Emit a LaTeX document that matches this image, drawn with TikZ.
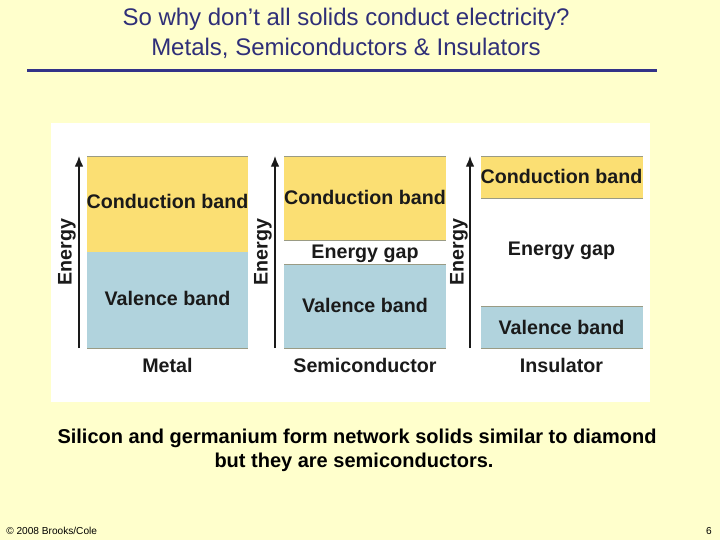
\documentclass[tikz,border=0pt]{standalone}
\usepackage{fontspec}
\setmainfont{Liberation Sans}
\definecolor{pagebg}{HTML}{FFFFCC}
\definecolor{rulecol}{HTML}{333388}
\definecolor{titlecol}{HTML}{2F2F78}
\definecolor{cond}{HTML}{FBDF73}
\definecolor{val}{HTML}{B1D3DD}
\definecolor{edgeband}{HTML}{9A9B84}
\definecolor{ink}{HTML}{1A1A1A}
\usetikzlibrary{arrows.meta}
\tikzset{
  x=0.75pt,y=-0.75pt,
  edgeline/.style={draw=edgeband,line width=0.7pt},
  bandtext/.style={font=\fontsize{14.75}{16}\selectfont\bfseries,text=ink,inner sep=0pt},
  energylabel/.style={font=\fontsize{14.75}{16}\selectfont\bfseries,text=ink,inner sep=0pt,rotate=90},
  axisarrow/.style={draw=ink,line width=1pt,-{Latex[length=8pt,width=6.5pt]}},
  title/.style={font=\fontsize{18}{21}\selectfont,text=titlecol,inner sep=0pt},
  caption/.style={font=\fontsize{15}{18}\selectfont\bfseries,text=black,inner sep=0pt},
  small/.style={font=\fontsize{7.6}{9}\selectfont,text=black,inner sep=0pt}
}
\begin{document}
\begin{tikzpicture}
\useasboundingbox (0,0) rectangle (720,540);
\fill[pagebg] (0,0) rectangle (720,540);
\node[title] (t1) at (346,19) {So why don’t all solids conduct electricity?};
\node[title] (t2) at (346,48) {Metals, Semiconductors \& Insulators};
\draw[rulecol,line width=2pt] (27,70.5) -- (657,70.5);
\fill[white] (51,123) rectangle (650,402);
% Metal
\fill[cond] (87,156) rectangle (248,252);
\fill[val] (87,252) rectangle (248,348);
\draw[edgeline] (87,156) -- (248,156);
\draw[edgeline] (87,348) -- (248,348);
% Semiconductor
\fill[cond] (284,156) rectangle (446,240);
\fill[val] (284,264) rectangle (446,348);
\draw[edgeline] (284,156) -- (446,156);
\draw[edgeline] (284,240) -- (446,240);
\draw[edgeline] (284,264) -- (446,264);
\draw[edgeline] (284,348) -- (446,348);
% Insulator
\fill[cond] (481,156) rectangle (643,198);
\fill[val] (481,306) rectangle (643,348);
\draw[edgeline] (481,156) -- (643,156);
\draw[edgeline] (481,198) -- (643,198);
\draw[edgeline] (481,306) -- (643,306);
\draw[edgeline] (481,348) -- (643,348);
% Axes
\coordinate (a1b) at (79,348); \coordinate (a1t) at (79,156);
\coordinate (a2b) at (275,348); \coordinate (a2t) at (275,156);
\coordinate (a3b) at (470,348); \coordinate (a3t) at (470,156);
\draw[axisarrow] (a1b) -- (a1t);
\draw[axisarrow] (a2b) -- (a2t);
\draw[axisarrow] (a3b) -- (a3t);
\node[energylabel] (e1) at (67,252) {Energy};
\node[energylabel] (e2) at (263,252) {Energy};
\node[energylabel] (e3) at (459,252) {Energy};
% Labels
\node[bandtext] (c1) at (167.5,201.5) {Conduction band};
\node[bandtext] (v1) at (167.5,298) {Valence band};
\node[bandtext] (m1) at (167.5,365.5) {Metal};
\node[bandtext] (c2) at (365,197.5) {Conduction band};
\node[bandtext] (g2) at (365,253.5) {Energy gap};
\node[bandtext] (v2) at (365,305.5) {Valence band};
\node[bandtext] (m2) at (365,365.5) {Semiconductor};
\node[bandtext] (c3) at (561.5,176.5) {Conduction band};
\node[bandtext] (g3) at (561.5,250.5) {Energy gap};
\node[bandtext] (v3) at (561.5,327.5) {Valence band};
\node[bandtext] (m3) at (561.5,365.5) {Insulator};
% Caption
\node[caption] (cap1) at (357,438) {Silicon and germanium form network solids similar to diamond};
\node[caption] (cap2) at (354,462) {but they are semiconductors.};
\node[small,anchor=west] (cr) at (6,530.5) {© 2008 Brooks/Cole};
\node[small] (pg) at (709,531) {6};
\end{tikzpicture}
\end{document}
